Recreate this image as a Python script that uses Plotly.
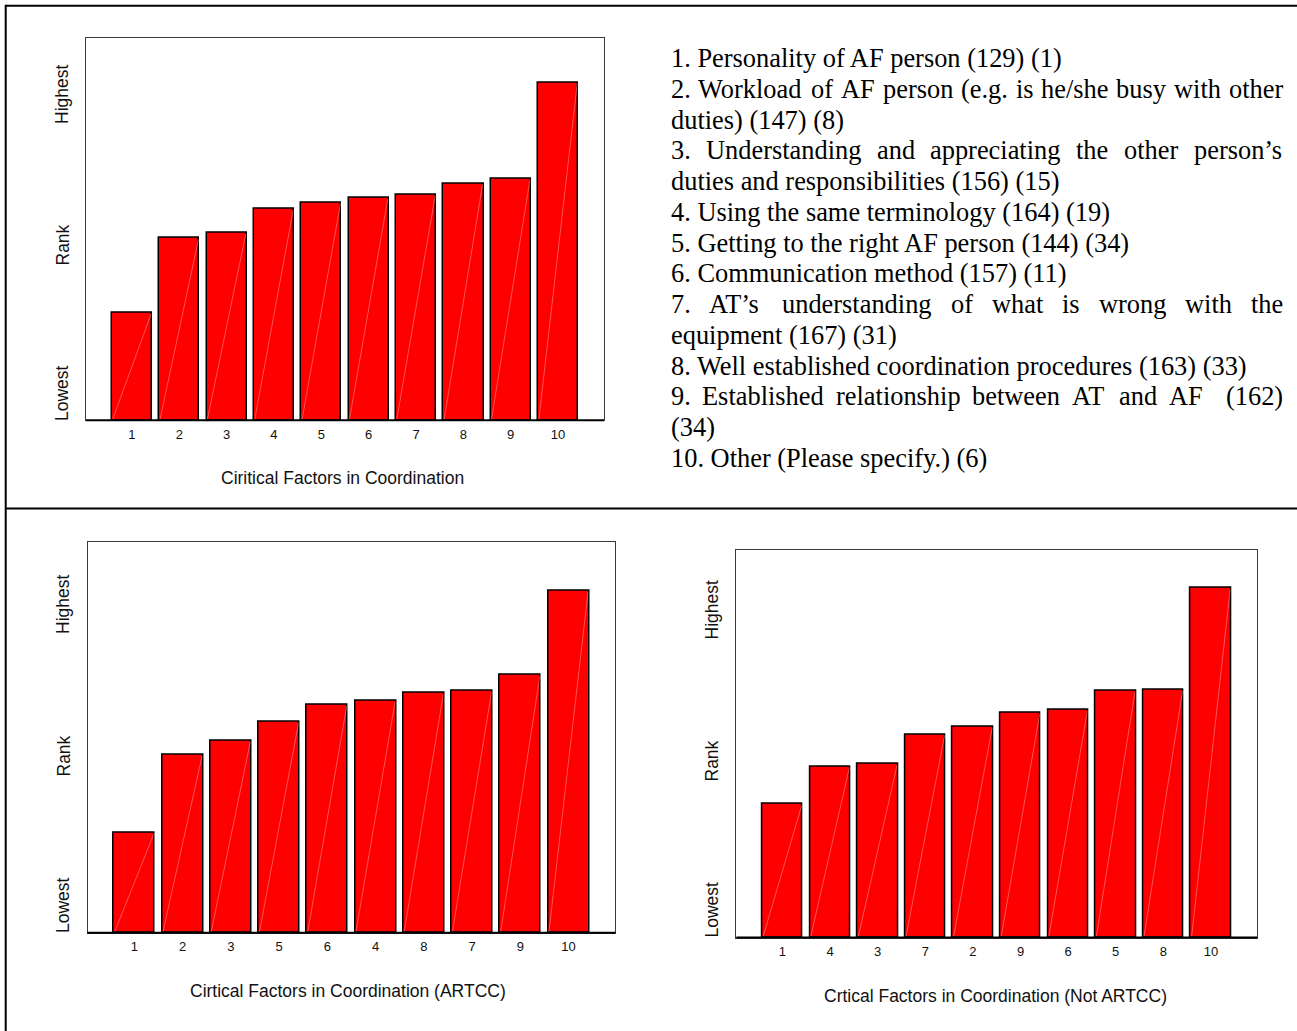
import plotly.graph_objects as go

# ---------------- data ----------------
all_labels = ["1", "2", "3", "4", "5", "6", "7", "8", "9", "10"]
all_values = [28.1, 47.6, 49.0, 55.2, 57.0, 58.2, 59.0, 61.9, 63.1, 88.3]

artcc_labels = ["1", "2", "3", "5", "6", "4", "8", "7", "9", "10"]
artcc_values = [25.6, 45.5, 49.1, 54.0, 58.4, 59.3, 61.3, 61.9, 65.9, 87.4]

not_artcc_labels = ["1", "4", "3", "7", "2", "9", "6", "5", "8", "10"]
not_artcc_values = [34.4, 44.1, 44.7, 52.4, 54.4, 58.0, 58.7, 63.7, 63.9, 90.1]

rank_labels = ["Lowest", "Rank", "Highest"]

titles = ["Ciritical Factors in Coordination",
          "Cirtical Factors in Coordination (ARTCC)",
          "Crtical Factors in Coordination (Not ARTCC)"]

factors = [
    "1. Personality of AF person (129) (1)",
    "2. Workload of AF person (e.g. is he/she busy with other duties) (147) (8)",
    "3. Understanding and appreciating the other person\u2019s duties and responsibilities (156) (15)",
    "4. Using the same terminology (164) (19)",
    "5. Getting to the right AF person (144) (34)",
    "6. Communication method (157) (11)",
    "7. AT\u2019s understanding of what is wrong with the equipment (167) (31)",
    "8. Well established coordination procedures (163) (33)",
    "9. Established relationship between AT and AF  (162) (34)",
    "10. Other (Please specify.) (6)",
]

# ---------------- layout constants ----------------
W, H = 1297, 1031
SANS = "Liberation Sans, Arial, sans-serif"
SERIF = "Liberation Serif, Times New Roman, serif"
BAR_W = 0.85


def px_x(v):
    return v / W


def px_y(v):
    return 1 - v / H


panels = [
    # (labels, values, x0, x1, ytop, ybottom, title_x, title_y, label_x, lowest_y, rank_y, highest_y)
    (all_labels, all_values, 86, 604, 37.7, 420.3, 342, 478, 62, 393, 245.5, 95),
    (artcc_labels, artcc_values, 87.5, 615.3, 541.7, 932.8, 348, 991, 63, 905, 756.5, 605),
    (not_artcc_labels, not_artcc_values, 736.3, 1257.1, 549.8, 937.5, 995, 996, 711.5, 910, 761, 610),
]

fig = go.Figure()
annotations = []
shapes = []

for k, (labels, values, x0, x1, yt, yb, tx, ty, lx, ly0, ly1, ly2) in enumerate(panels):
    n = len(labels)
    pos = list(range(1, n + 1))
    sfx = "" if k == 0 else str(k + 1)
    fig.add_trace(go.Bar(
        x=pos, y=values, width=BAR_W,
        marker=dict(color="#ff0000", line=dict(color="#000000", width=1.5)),
        xaxis="x" + sfx, yaxis="y" + sfx, showlegend=False, hoverinfo="skip",
    ))
    # faint diagonal rendering artefact inside each bar
    dx, dy = [], []
    for p, v in zip(pos, values):
        dx += [p - BAR_W / 2 + 0.02, p + BAR_W / 2 - 0.02, None]
        dy += [0.3, v - 0.3, None]
    fig.add_trace(go.Scatter(
        x=dx, y=dy, mode="lines",
        line=dict(color="rgba(255,190,190,0.55)", width=0.8),
        xaxis="x" + sfx, yaxis="y" + sfx, showlegend=False, hoverinfo="skip",
    ))
    fig.update_layout(**{
        "xaxis" + sfx: dict(
            domain=[px_x(x0), px_x(x1)], range=[0.03, 10.97],
            anchor="y" + sfx, tickmode="array", tickvals=pos, ticktext=labels,
            ticks="outside", ticklen=2, tickcolor="rgba(0,0,0,0)",
            tickfont=dict(family=SANS, size=13, color="#111111"),
            showgrid=False, zeroline=False, showline=True, mirror=True,
            linecolor="#3a3a3a", linewidth=1, fixedrange=True,
        ),
        "yaxis" + sfx: dict(
            domain=[px_y(yb), px_y(yt)], range=[0, 100],
            anchor="x" + sfx, showticklabels=False, ticks="",
            showgrid=False, zeroline=False, showline=True, mirror=True,
            linecolor="#3a3a3a", linewidth=1, fixedrange=True,
        ),
    })
    # heavier baseline
    shapes.append(dict(type="line", xref="x" + sfx + " domain", yref="y" + sfx + " domain",
                       x0=0, x1=1, y0=0, y1=0, line=dict(color="#000000", width=2)))
    # x title
    annotations.append(dict(text=titles[k], x=px_x(tx), y=px_y(ty), xref="paper", yref="paper",
                            xanchor="center", yanchor="middle", showarrow=False,
                            font=dict(family=SANS, size=17.5, color="#111111")))
    # y rank labels
    for lab, yy in zip(rank_labels, [ly0, ly1, ly2]):
        annotations.append(dict(text=lab, x=px_x(lx), y=px_y(yy), xref="paper", yref="paper",
                                xanchor="center", yanchor="middle", textangle=-90, showarrow=False,
                                font=dict(family=SANS, size=17.5, color="#111111")))

# ---------------- justified factor list (Times metrics) ----------------
TIMES = {
    " ": 250, "(": 333, ")": 333, ".": 250, "/": 278, "\u2019": 333, ",": 250,
    "A": 722, "B": 667, "C": 667, "D": 722, "E": 611, "F": 556, "G": 722, "H": 722,
    "I": 333, "J": 389, "K": 722, "L": 611, "M": 889, "N": 722, "O": 722, "P": 556,
    "Q": 722, "R": 667, "S": 556, "T": 611, "U": 722, "V": 722, "W": 944, "X": 722,
    "Y": 722, "Z": 611,
    "a": 444, "b": 500, "c": 444, "d": 500, "e": 444, "f": 333, "g": 500, "h": 500,
    "i": 278, "j": 278, "k": 500, "l": 278, "m": 778, "n": 500, "o": 500, "p": 500,
    "q": 500, "r": 333, "s": 389, "t": 278, "u": 500, "v": 500, "w": 722, "x": 500,
    "y": 500, "z": 444,
}
FS = 26.4
TEXT_L, TEXT_R = 670.5, 1283.0
CENTER0, LINE_H = 58.0, 30.77
COL_W = TEXT_R - TEXT_L


def wlen(s):
    return sum(TIMES.get(c, 500) for c in s) * FS / 1000.0


space = wlen(" ")
lines = []  # (words, justified)
for para in factors:
    words = para.split(" ")
    cur = []
    for w_ in words:
        trial = cur + [w_]
        width = sum(wlen(t) for t in trial) + space * (len(trial) - 1)
        if cur and width > COL_W:
            lines.append((cur, True))
            cur = [w_]
        else:
            cur = trial
    lines.append((cur, False))

for i, (words, just) in enumerate(lines):
    yc = CENTER0 + LINE_H * i
    if just and len(words) > 1:
        total = sum(wlen(t) for t in words)
        gap = (COL_W - total) / (len(words) - 1)
        xx = TEXT_L
        for t in words:
            if t:
                annotations.append(dict(text=t, x=px_x(xx), y=px_y(yc), xref="paper", yref="paper",
                                        xanchor="left", yanchor="middle", showarrow=False,
                                        borderpad=0, borderwidth=0,
                                        font=dict(family=SERIF, size=FS, color="#000000")))
            xx += wlen(t) + gap
    else:
        annotations.append(dict(text=" ".join(t for t in words if t), x=px_x(TEXT_L), y=px_y(yc),
                                xref="paper", yref="paper", xanchor="left", yanchor="middle",
                                showarrow=False, borderpad=0, borderwidth=0,
                                font=dict(family=SERIF, size=FS, color="#000000")))

# ---------------- outer frame ----------------
frame = dict(color="#000000", width=2)
shapes.append(dict(type="line", xref="paper", yref="paper", x0=px_x(5.7), x1=1.0,
                   y0=px_y(5.7), y1=px_y(5.7), line=frame))
shapes.append(dict(type="line", xref="paper", yref="paper", x0=px_x(5.7), x1=px_x(5.7),
                   y0=px_y(4.7), y1=0.0, line=frame))
shapes.append(dict(type="line", xref="paper", yref="paper", x0=px_x(5.7), x1=1.0,
                   y0=px_y(508.5), y1=px_y(508.5), line=frame))

fig.update_layout(
    width=W, height=H, margin=dict(l=0, r=0, t=0, b=0),
    paper_bgcolor="#ffffff", plot_bgcolor="#ffffff",
    showlegend=False, bargap=0, hovermode=False,
    annotations=annotations, shapes=shapes,
)

fig.write_html("out.html", config={"displayModeBar": False},
               post_script="document.body.style.margin='0';document.body.style.overflow='hidden';")
